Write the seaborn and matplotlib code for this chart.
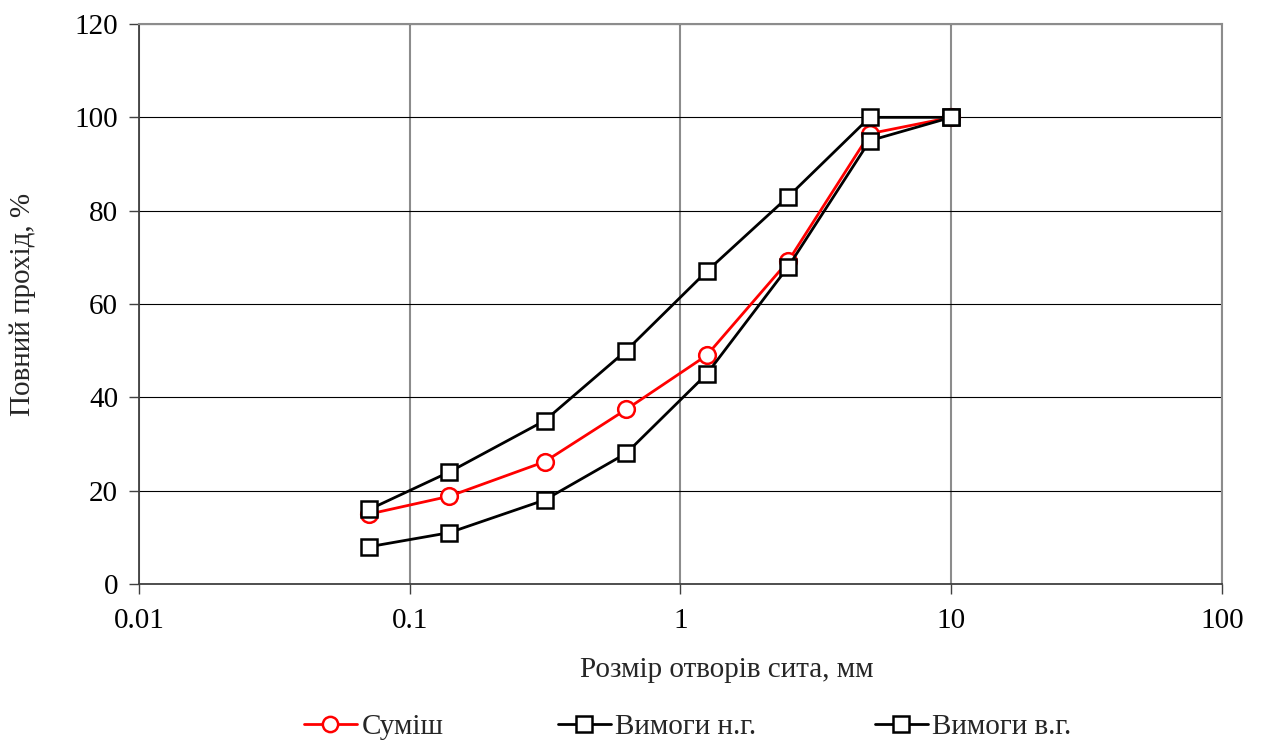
import matplotlib
matplotlib.use("Agg")
import matplotlib.pyplot as plt
import seaborn as sns
import pandas as pd
from matplotlib.ticker import FuncFormatter, FixedLocator, NullLocator
from matplotlib.lines import Line2D

sizes = [0.071, 0.14, 0.315, 0.63, 1.25, 2.5, 5, 10]
mix = [15.0, 18.8, 26.2, 37.4, 49.0, 69.2, 96.5, 100]
lower = [8, 11, 18, 28, 45, 68, 95, 100]
upper = [16, 24, 35, 50, 67, 83, 100, 100]
labels = ["Суміш", "Вимоги н.г.", "Вимоги в.г."]
yticks = [0, 20, 40, 60, 80, 100, 120]
xticks = [0.01, 0.1, 1, 10, 100]

sns.set_style("white")
plt.rcParams['font.family'] = ['Liberation Serif', 'DejaVu Serif']

FS = 21
W, H = 1261, 742
fig = plt.figure(figsize=(W / 100, H / 100), dpi=100)
ax = fig.add_axes([139/W, 1-584/H, (1222-139)/W, (584-24)/H])

series = [(mix, labels[0], 'red', 'o'), (lower, labels[1], 'black', 's'), (upper, labels[2], 'black', 's')]
for vals, lab, col, mk in series:
    df = pd.DataFrame({"x": sizes, "y": vals})
    sns.lineplot(data=df, x="x", y="y", ax=ax, color=col, marker=mk, markersize=12,
                 markerfacecolor='white', markeredgecolor=col, markeredgewidth=1.8,
                 linewidth=2, zorder=3, label=lab, legend=False)

ax.set_xscale('log')
ax.set_xlim(0.01, 100)
ax.set_ylim(0, 120)
ax.xaxis.set_major_locator(FixedLocator(xticks))
ax.xaxis.set_minor_locator(NullLocator())
ax.xaxis.set_major_formatter(FuncFormatter(lambda v, p: f"{v:g}"))
ax.set_yticks(yticks)

ax.grid(True, axis='y', color='black', linewidth=0.8, zorder=0)
ax.grid(True, axis='x', color='#8c8c8c', linewidth=1.5, zorder=0)
ax.set_axisbelow(True)

for s in ['top', 'right']:
    ax.spines[s].set_color('#8c8c8c')
    ax.spines[s].set_linewidth(1.5)
for s in ['left', 'bottom']:
    ax.spines[s].set_color('#404040')
    ax.spines[s].set_linewidth(1.3)

ax.tick_params(axis='both', labelsize=FS, length=7, width=1, direction='out', colors='#404040',
               labelcolor='black', left=True, bottom=True)
ax.tick_params(axis='x', pad=10)
ax.tick_params(axis='y', pad=8)
ax.set_xlabel("Розмір отворів сита, мм", fontsize=FS, labelpad=17)
ax.xaxis.label.set_x((727 - 139) / (1222 - 139))
ax.set_ylabel("Повний прохід, %", fontsize=FS, labelpad=28)

legend_x = [304, 558, 875]
for (vals, lab, c, m), lx in zip(series, legend_x):
    h = Line2D([], [], color=c, marker=m, markersize=11, markerfacecolor='white',
               markeredgecolor=c, markeredgewidth=1.8, linewidth=2)
    leg = fig.legend([h], [lab], loc='center left', bbox_to_anchor=(lx / W, 1 - 727 / H),
                     frameon=False, fontsize=FS, handlelength=1.8, handletextpad=0.17,
                     borderpad=0, borderaxespad=0)

fig.savefig("out.png", dpi=100)
